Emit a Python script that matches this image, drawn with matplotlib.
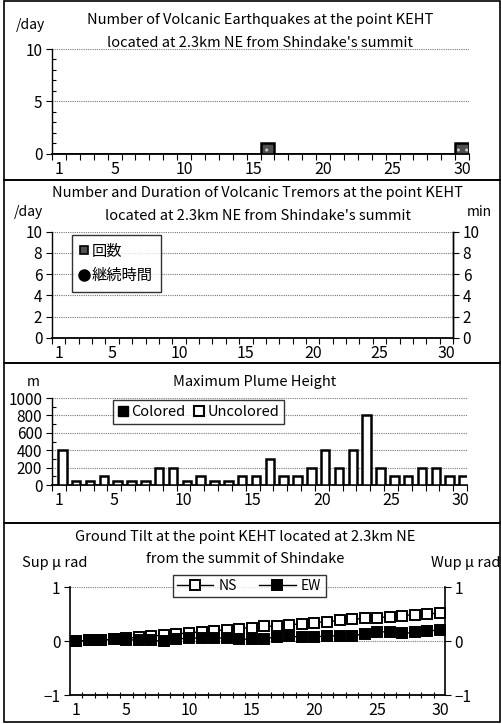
import matplotlib
matplotlib.use("Agg")
import matplotlib.pyplot as plt
from matplotlib.lines import Line2D
from matplotlib.patches import Patch, Rectangle
from matplotlib.ticker import MultipleLocator

plt.rcParams['font.family'] = ['Noto Sans CJK JP', 'DejaVu Sans']
plt.rcParams['font.size'] = 10

# ---- data ----
days = list(range(1, 31))
day_labels = [1, 5, 10, 15, 20, 25, 30]

quake_counts = [0, 0, 0, 0, 0, 0, 0, 0, 0, 0, 0, 0, 0, 0, 0,
                1, 0, 0, 0, 0, 0, 0, 0, 0, 0, 0, 0, 0, 0, 1]

tremor_counts = []      # no tremors this month
tremor_minutes = []

plume_colored = [0] * 30
plume_uncolored = [400, 50, 50, 100, 50, 50, 50, 200, 200, 50,
                   100, 50, 50, 100, 100, 300, 100, 100, 200, 400,
                   200, 400, 800, 200, 100, 100, 200, 200, 100, 100]

tilt_ns = [0.00, 0.01, 0.02, 0.03, 0.05, 0.07, 0.09, 0.11, 0.13, 0.15,
           0.17, 0.19, 0.21, 0.23, 0.25, 0.27, 0.28, 0.30, 0.32, 0.34,
           0.36, 0.38, 0.40, 0.42, 0.43, 0.45, 0.47, 0.49, 0.50, 0.52]
tilt_ew = [0.00, 0.01, 0.02, 0.03, 0.02, 0.02, 0.01, 0.00, 0.04, 0.05,
           0.06, 0.06, 0.05, 0.04, 0.03, 0.04, 0.08, 0.09, 0.07, 0.08,
           0.09, 0.10, 0.10, 0.13, 0.17, 0.17, 0.14, 0.16, 0.18, 0.21]

W, H = 501, 724
fig = plt.figure(figsize=(W / 100, H / 100), dpi=100)


def ax_px(x0, y0, x1, y1):
    return fig.add_axes([x0 / W, 1 - y1 / H, (x1 - x0) / W, (y1 - y0) / H])


def ftext(x, y, s, **kw):
    fig.text(x / W, 1 - y / H, s, va='center', **kw)


def style_axis(ax, ylim, major, minor=None, right=False):
    ax.set_xlim(0.5, 30.5)
    ax.set_ylim(*ylim)
    ax.yaxis.set_major_locator(MultipleLocator(major))
    if minor:
        ax.yaxis.set_minor_locator(MultipleLocator(minor))
        ax.tick_params(axis='y', which='minor', direction='in', length=3, width=0.8)
    ax.tick_params(axis='y', which='major', direction='out', length=4, width=0.8,
                   pad=3, labelsize=11)
    ax.set_xticks([d + 0.5 for d in range(0, 31)])
    ax.set_xticklabels([])
    ax.set_xticks(day_labels, minor=True)
    ax.set_xticklabels([str(d) for d in day_labels], minor=True, fontsize=11.5)
    ax.tick_params(axis='x', which='major', direction='out', length=4, width=0.8)
    ax.tick_params(axis='x', which='minor', length=0, pad=5)
    ax.spines['top'].set_visible(False)
    ax.spines['right'].set_visible(right)
    ax.spines['left'].set_linewidth(1)
    ax.spines['bottom'].set_linewidth(1.3)
    ax.yaxis.grid(True, which='major', linestyle=(0, (1, 1)), color='#777777', lw=0.8)
    ax.set_axisbelow(True)
    ax.set_facecolor('none')


# panel frames
for y0, y1 in [(1, 180), (180, 363), (363, 523), (523, 722)]:
    fig.add_artist(Rectangle((4 / W, 1 - y1 / H), (496 / W), (y1 - y0) / H,
                             transform=fig.transFigure, fill=False, lw=1.2,
                             edgecolor='black'))

# ---- panel 1: volcanic earthquakes ----
ax1 = ax_px(52, 49, 469, 153.7)
style_axis(ax1, (0, 10), 5, 1)
ax1.bar(days, quake_counts, width=1.0, color='#505050', edgecolor='#c8c8c8',
        hatch='..', linewidth=0, zorder=3)
ax1.bar(days, quake_counts, width=1.0, fill=False, edgecolor='black',
        linewidth=1.8, zorder=4)
ftext(260, 20, 'Number of Volcanic Earthquakes at the point KEHT', ha='center', fontsize=10.5)
ftext(260, 43, "located at 2.3km NE from Shindake's summit", ha='center', fontsize=10.5)
ftext(30, 25, '/day', ha='center')

# ---- panel 2: volcanic tremors ----
ax2 = ax_px(52, 231.7, 453, 337.7)
style_axis(ax2, (0, 10), 2, right=True)
ax2.spines['right'].set_linewidth(1)
ax2r = ax2.twinx()
ax2r.set_ylim(0, 10)
ax2r.yaxis.set_major_locator(MultipleLocator(2))
ax2r.tick_params(axis='y', direction='out', length=4, width=0.8, pad=3, labelsize=11)
for s in ['top', 'left', 'bottom']:
    ax2r.spines[s].set_visible(False)
ax2r.spines['right'].set_linewidth(1)
ax2.bar(days[:len(tremor_counts)], tremor_counts, width=1.0, color='#505050')
ax2r.plot(days[:len(tremor_minutes)], tremor_minutes, 'ko')
ftext(258, 193, 'Number and Duration of Volcanic Tremors at the point KEHT',
      ha='center', fontsize=10.5)
ftext(258, 216, "located at 2.3km NE from Shindake's summit", ha='center', fontsize=10.5)
ftext(28, 212, '/day', ha='center')
ftext(479, 212, 'min', ha='center')
h2 = [Line2D([], [], ls='none', marker='s', ms=6, mfc='#505050', mec='black', mew=1.2),
      Line2D([], [], ls='none', marker='o', ms=8, mfc='black', mec='black')]
leg2 = ax2.legend(h2, ['回数', '継続時間'], loc='upper left',
                  bbox_to_anchor=(72 / W, 1 - 235 / H), bbox_transform=fig.transFigure,
                  borderaxespad=0, frameon=True, fancybox=False, handlelength=0.6,
                  handletextpad=0.2, borderpad=0.5, labelspacing=0.5, fontsize=11)
leg2.get_frame().set_edgecolor('black')
leg2.get_frame().set_linewidth(1)

# ---- panel 3: plume height ----
ax3 = ax_px(52, 398, 467, 485)
style_axis(ax3, (0, 1000), 200, 100)
ax3.bar([d - 0.25 for d in days], plume_colored, width=0.6, color='black', zorder=3)
ax3.bar([d + 0.25 for d in days], plume_uncolored, width=0.62, color='white',
        edgecolor='black', linewidth=1.8, zorder=3)
ftext(255, 382, 'Maximum Plume Height', ha='center', fontsize=10.5)
ftext(33, 382, 'm', ha='center')
h3 = [Patch(facecolor='black', edgecolor='black'),
      Patch(facecolor='white', edgecolor='black', linewidth=1.5)]
leg3 = ax3.legend(h3, ['Colored', 'Uncolored'], loc='upper left', ncol=2,
                  bbox_to_anchor=(113 / W, 1 - 400 / H), bbox_transform=fig.transFigure,
                  borderaxespad=0, frameon=True, fancybox=False, handlelength=0.7,
                  handleheight=0.7, handletextpad=0.2, columnspacing=0.6,
                  borderpad=0.35, fontsize=10.5)
leg3.get_frame().set_edgecolor('black')
leg3.get_frame().set_linewidth(1)

# ---- panel 4: ground tilt ----
ax4 = ax_px(70, 587, 445, 695)
style_axis(ax4, (-1, 1), 1, right=True)
ax4.set_xlim(0.52, 30.4)
ax4.spines['right'].set_linewidth(1.2)
ax4.spines['left'].set_linewidth(1.2)
ax4.tick_params(axis='x', which='major', direction='inout', length=5)
ax4.set_yticks([-1, 0, 1])
ax4.set_yticklabels(['\u22121', '0', '1'])
ax4r = ax4.twinx()
ax4r.set_ylim(-1, 1)
ax4r.set_yticks([-1, 0, 1])
ax4r.set_yticklabels(['\u22121', '0', '1'])
ax4r.tick_params(axis='y', direction='out', length=4, width=0.8, pad=3, labelsize=11)
for s in ['top', 'left', 'bottom', 'right']:
    ax4r.spines[s].set_visible(False)
ax4.plot(days, tilt_ns, '-', color='black', lw=1, marker='s', ms=7.5,
         mfc='white', mec='black', mew=1.4, label='NS', zorder=3)
ax4.plot(days, tilt_ew, '-', color='black', lw=1, marker='s', ms=7.5,
         mfc='black', mec='black', mew=1.4, label='EW', zorder=4)
ftext(245, 537, 'Ground Tilt at the point KEHT located at 2.3km NE', ha='center', fontsize=10.5)
ftext(245, 559, 'from the summit of Shindake', ha='center', fontsize=10.5)
ftext(55, 563, 'Sup \u03bc rad', ha='center', fontsize=10.5)
ftext(466, 563, 'Wup \u03bc rad', ha='center', fontsize=10.5)
leg4 = ax4.legend(loc='upper left', ncol=2,
                  bbox_to_anchor=(173 / W, 1 - 575 / H), bbox_transform=fig.transFigure,
                  borderaxespad=0, frameon=True, fancybox=False, handlelength=2.6,
                  handletextpad=0.4, columnspacing=1.6, borderpad=0.3,
                  markerscale=0.9, fontsize=10)
leg4.get_frame().set_edgecolor('black')
leg4.get_frame().set_linewidth(1)
leg4.set_zorder(10)

fig.savefig('out.png', dpi=100)
